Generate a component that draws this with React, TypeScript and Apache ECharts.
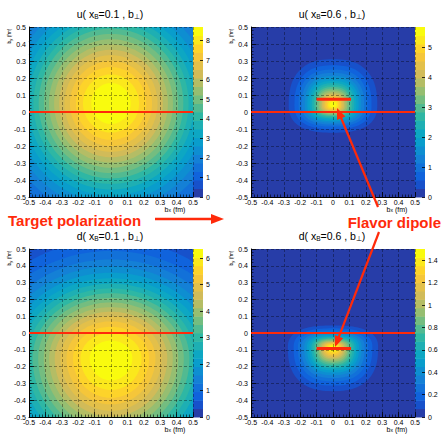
import React, { useEffect, useRef } from "react";
import * as echarts from "echarts";

const FONT = "'Liberation Sans', Arial, Helvetica, sans-serif";
const RED = "#ff2a0a";

// ---- panel metadata ----
const parton = ["u", "u", "d", "d"];
const xBjorken = ["0.1", "0.6", "0.1", "0.6"];
const zMax = [8.7, 5.67, 6.34, 1.5];
const zTickStep = [1, 1, 1, 0.2];
const bMin = -0.5;
const bMax = 0.5;
const bStep = 0.1;
const nBands = 20;

// ---- contour shapes (level k = 1..19, threshold k*zMax/20), in fm ----
const centerX = [0, 0, 0, 0];
const centerY = [0.05, 0.04, -0.15, -0.085];
const squareness = [2, 2.5, 2, 2.5];

const uX01Rx = [0.916, 0.804, 0.729, 0.671, 0.623, 0.58, 0.542, 0.506, 0.473, 0.441, 0.409, 0.378, 0.347, 0.316, 0.284, 0.25, 0.214, 0.171, 0.12];
const uX01RyUp = [0.916, 0.804, 0.729, 0.671, 0.623, 0.58, 0.542, 0.506, 0.473, 0.441, 0.409, 0.378, 0.347, 0.316, 0.284, 0.25, 0.214, 0.171, 0.12];
const uX01RyDown = [0.916, 0.804, 0.729, 0.671, 0.623, 0.58, 0.542, 0.506, 0.473, 0.441, 0.409, 0.378, 0.347, 0.316, 0.284, 0.25, 0.214, 0.171, 0.12];

const uX06Rx = [0.27, 0.235, 0.21, 0.19, 0.172, 0.157, 0.143, 0.13, 0.118, 0.107, 0.097, 0.087, 0.077, 0.068, 0.059, 0.05, 0.04, 0.03, 0.02];
const uX06RyUp = [0.27, 0.235, 0.21, 0.19, 0.172, 0.157, 0.143, 0.13, 0.118, 0.107, 0.097, 0.087, 0.077, 0.068, 0.059, 0.05, 0.04, 0.03, 0.02];
const uX06RyDown = [0.162, 0.141, 0.126, 0.114, 0.103, 0.094, 0.086, 0.078, 0.071, 0.064, 0.058, 0.052, 0.046, 0.041, 0.035, 0.03, 0.024, 0.018, 0.012];

const dX01Rx = [0.994, 0.871, 0.79, 0.728, 0.676, 0.63, 0.588, 0.549, 0.513, 0.478, 0.444, 0.41, 0.377, 0.343, 0.308, 0.271, 0.232, 0.186, 0.13];
const dX01RyUp = [0.803, 0.704, 0.639, 0.588, 0.546, 0.509, 0.476, 0.444, 0.415, 0.387, 0.359, 0.332, 0.304, 0.277, 0.249, 0.219, 0.187, 0.15, 0.105];
const dX01RyDown = [1.009, 0.885, 0.803, 0.739, 0.686, 0.64, 0.598, 0.558, 0.521, 0.486, 0.451, 0.417, 0.382, 0.348, 0.313, 0.275, 0.236, 0.189, 0.132];

const dX06Rx = [0.275, 0.24, 0.214, 0.193, 0.175, 0.159, 0.145, 0.132, 0.12, 0.109, 0.098, 0.088, 0.078, 0.069, 0.06, 0.05, 0.041, 0.031, 0.02];
const dX06RyUp = [0.13, 0.113, 0.101, 0.091, 0.082, 0.075, 0.068, 0.062, 0.056, 0.051, 0.046, 0.041, 0.037, 0.032, 0.028, 0.024, 0.019, 0.015, 0.01];
const dX06RyDown = [0.261, 0.228, 0.203, 0.183, 0.166, 0.151, 0.138, 0.125, 0.114, 0.104, 0.093, 0.084, 0.074, 0.066, 0.057, 0.048, 0.039, 0.029, 0.019];

const contourRx = [uX01Rx, uX06Rx, dX01Rx, dX06Rx];
const contourRyUp = [uX01RyUp, uX06RyUp, dX01RyUp, dX06RyUp];
const contourRyDown = [uX01RyDown, uX06RyDown, dX01RyDown, dX06RyDown];

// ---- red lines ----
const zeroLineX = [-0.5, 0.5];
const zeroLineY = 0;
const markerX = [-0.1, 0.11];
const markerY = [null, 0.075, null, -0.092];

// ---- kBird palette (style) ----
const birdStops = [0, 0.125, 0.25, 0.375, 0.5, 0.625, 0.75, 0.875, 1];
const birdR = [0.2082, 0.0592, 0.078, 0.0232, 0.1802, 0.5301, 0.8186, 0.9956, 0.9764];
const birdG = [0.1664, 0.3599, 0.5041, 0.6419, 0.7178, 0.7492, 0.7328, 0.7862, 0.9832];
const birdB = [0.5293, 0.8684, 0.8385, 0.7914, 0.6425, 0.4662, 0.3499, 0.1968, 0.0539];
function bird(t: number) {
  let i = 0;
  while (i < birdStops.length - 2 && t > birdStops[i + 1]) i++;
  const f = (t - birdStops[i]) / (birdStops[i + 1] - birdStops[i]);
  const c = (a: number[]) => Math.round(255 * (a[i] + (a[i + 1] - a[i]) * f));
  return `rgb(${c(birdR)},${c(birdG)},${c(birdB)})`;
}
const bandColors: string[] = [];
for (let k = 0; k < nBands; k++) {
  bandColors.push(bird(Math.floor((k + 0.99) * 12.75) / 254));
}

// ---- layout ----
const PL = [29, 251, 29, 251];
const PT = [27, 27, 249, 249];
const PW = 164;
const PH = [170, 170, 168, 168];
const CBW = 10;

function clamp(v: number, a: number, b: number) {
  return Math.max(a, Math.min(b, v));
}

function makeContourRender(p: number) {
  return (params: any, api: any) => {
    const k = api.value(0);
    const rx = api.value(1);
    const ru = api.value(2);
    const rd = api.value(3);
    const cs = params.coordSys;
    const n = squareness[p];
    const pts: number[][] = [];
    const N = 120;
    for (let i = 0; i < N; i++) {
      const t = (i / N) * Math.PI * 2;
      const c = Math.cos(t);
      const s = Math.sin(t);
      const ex = Math.sign(c) * Math.pow(Math.abs(c), 2 / n);
      const ey = Math.sign(s) * Math.pow(Math.abs(s), 2 / n);
      const px = centerX[p] + rx * ex;
      const py = centerY[p] + (s > 0 ? ru : rd) * ey;
      const q = api.coord([px, py]);
      pts.push([clamp(q[0], cs.x, cs.x + cs.width), clamp(q[1], cs.y, cs.y + cs.height)]);
    }
    return { type: "polygon", shape: { points: pts }, style: { fill: bandColors[k] } };
  };
}

function makeBarRender(p: number) {
  const step = zMax[p] / nBands;
  return (params: any, api: any) => {
    const k = api.value(1);
    const a = api.coord([0, k * step]);
    const b = api.coord([1, (k + 1) * step]);
    return {
      type: "rect",
      shape: { x: a[0], y: b[1], width: b[0] - a[0], height: a[1] - b[1] + 0.5 },
      style: { fill: bandColors[k] },
    };
  };
}

function arrow(x1: number, y1: number, x2: number, y2: number, w: number, head: number, half: number) {
  const dx = x2 - x1;
  const dy = y2 - y1;
  const L = Math.hypot(dx, dy);
  const ux = dx / L;
  const uy = dy / L;
  const bx = x2 - ux * head;
  const by = y2 - uy * head;
  return [
    { type: "line", shape: { x1, y1, x2: bx + ux, y2: by + uy }, style: { stroke: RED, lineWidth: w }, z: 20 },
    {
      type: "polygon",
      shape: { points: [[x2, y2], [bx - uy * half, by + ux * half], [bx + uy * half, by - ux * half]] },
      style: { fill: RED },
      z: 20,
    },
  ];
}

const richSub = {
  s: { fontSize: 6.5, fontFamily: FONT, verticalAlign: "bottom", lineHeight: 7, fill: "#000" },
};

function buildOption() {
  const grid: any[] = [];
  const xAxis: any[] = [];
  const yAxis: any[] = [];
  const series: any[] = [];
  const graphic: any[] = [];
  const blackLine = { color: "#000", width: 1 };
  for (let p = 0; p < 4; p++) {
    grid.push({ left: PL[p], top: PT[p], width: PW, height: PH[p], show: true, backgroundColor: bandColors[0], borderWidth: 0 });
    grid.push({ left: PL[p] + PW, top: PT[p], width: CBW, height: PH[p], show: false });
    xAxis.push({
      gridIndex: 2 * p,
      type: "value",
      min: bMin,
      max: bMax,
      interval: bStep,
      z: 3,
      axisLine: { show: true, onZero: false, lineStyle: blackLine },
      axisTick: { show: true, inside: true, length: 5, lineStyle: { color: "#000", width: 0.8 } },
      minorTick: { show: true, splitNumber: 5, length: 2.5, lineStyle: { color: "#000", width: 0.6 } },
      axisLabel: { fontSize: 7, margin: 2, color: "#000", fontFamily: FONT, lineHeight: 7 },
      splitLine: { show: true, lineStyle: { color: "#000", width: 0.6, type: [3, 2], opacity: 0.6 } },
    });
    xAxis.push({ gridIndex: 2 * p + 1, type: "value", min: 0, max: 1, show: false });
    yAxis.push({
      gridIndex: 2 * p,
      type: "value",
      min: bMin,
      max: bMax,
      interval: bStep,
      z: 3,
      axisLine: { show: true, onZero: false, lineStyle: blackLine },
      axisTick: { show: true, inside: true, length: 5, lineStyle: { color: "#000", width: 0.8 } },
      minorTick: { show: true, splitNumber: 5, length: 2.5, lineStyle: { color: "#000", width: 0.6 } },
      axisLabel: { fontSize: 7, margin: 3, color: "#000", fontFamily: FONT },
      splitLine: { show: true, lineStyle: { color: "#000", width: 0.6, type: [3, 2], opacity: 0.6 } },
    });
    yAxis.push({
      gridIndex: 2 * p + 1,
      type: "value",
      min: 0,
      max: zMax[p],
      interval: zTickStep[p],
      position: "right",
      z: 3,
      axisLine: { show: false, onZero: false },
      axisTick: { show: true, inside: true, length: 3, lineStyle: { color: "#000", width: 0.8 } },
      axisLabel: { fontSize: 7, margin: 3, color: "#000", fontFamily: FONT, showMaxLabel: false },
      splitLine: { show: false },
    });

    const rx = contourRx[p];
    series.push({
      type: "custom",
      xAxisIndex: 2 * p,
      yAxisIndex: 2 * p,
      silent: true,
      z: 1,
      renderItem: makeContourRender(p),
      data: rx.map((r, i) => [i + 1, r, contourRyUp[p][i], contourRyDown[p][i]]),
    });
    const bandIdx: number[][] = [];
    for (let k = 0; k < nBands; k++) bandIdx.push([0.5, k]);
    series.push({
      type: "custom",
      xAxisIndex: 2 * p + 1,
      yAxisIndex: 2 * p + 1,
      silent: true,
      z: 1,
      renderItem: makeBarRender(p),
      data: bandIdx,
    });
    series.push({
      type: "line",
      xAxisIndex: 2 * p,
      yAxisIndex: 2 * p,
      silent: true,
      symbol: "none",
      z: 10,
      lineStyle: { color: RED, width: 2 },
      data: zeroLineX.map((x) => [x, zeroLineY]),
    });
    const my = markerY[p];
    if (my !== null) {
      series.push({
        type: "line",
        xAxisIndex: 2 * p,
        yAxisIndex: 2 * p,
        silent: true,
        symbol: "none",
        z: 10,
        lineStyle: { color: RED, width: 3 },
        data: markerX.map((x) => [x, my]),
      });
    }

    // title
    graphic.push({
      type: "text",
      x: PL[p] + 81,
      y: PT[p] - 13.5,
      z: 20,
      style: {
        text: `${parton[p]}( x{s|B}=${xBjorken[p]} , b{s|⊥})`,
        font: `10.5px ${FONT}`,
        fill: "#000",
        align: "center",
        verticalAlign: "middle",
        lineHeight: 13,
        rich: richSub,
      },
    });
    // x axis title
    graphic.push({
      type: "text",
      x: PL[p] + 146,
      y: PT[p] + PH[p] + 12,
      z: 20,
      style: {
        text: "b{s|x} (fm)",
        font: `7px ${FONT}`,
        fill: "#000",
        align: "center",
        verticalAlign: "middle",
        lineHeight: 7,
        rich: { s: { fontSize: 5, fontFamily: FONT, verticalAlign: "bottom", lineHeight: 5, fill: "#000" } },
      },
    });
    // y axis title
    graphic.push({
      type: "text",
      x: PL[p] - 20,
      y: PT[p] + 9,
      rotation: Math.PI / 2,
      z: 20,
      style: {
        text: "b{s|y} (fm)",
        font: `5px ${FONT}`,
        fill: "#000",
        align: "center",
        verticalAlign: "middle",
        lineHeight: 6,
        rich: { s: { fontSize: 4, fontFamily: FONT, verticalAlign: "bottom", lineHeight: 4, fill: "#000" } },
      },
    });
  }

  graphic.push({
    type: "text",
    x: 8,
    y: 220,
    z: 20,
    style: { text: "Target polarization", font: `bold 15px ${FONT}`, fill: RED, align: "left", verticalAlign: "middle", lineHeight: 15 },
  });
  graphic.push({
    type: "text",
    x: 441,
    y: 222,
    z: 20,
    style: { text: "Flavor dipole", font: `bold 15px ${FONT}`, fill: RED, align: "right", verticalAlign: "middle", lineHeight: 15 },
  });
  graphic.push(...arrow(155, 219, 224, 219, 2.5, 13, 5));
  graphic.push(...arrow(378, 207, 337, 108, 2.2, 11, 4.5));
  graphic.push(...arrow(379, 232, 335, 347, 2.2, 11, 4.5));

  return { animation: false, grid, xAxis, yAxis, series, graphic };
}

export default function App() {
  const ref = useRef<HTMLDivElement>(null);
  useEffect(() => {
    document.body.style.margin = "0";
    if (!ref.current) return;
    const chart = echarts.init(ref.current, undefined, { renderer: "svg" });
    chart.setOption(buildOption() as any);
    return () => chart.dispose();
  }, []);
  return <div ref={ref} style={{ width: 443, height: 435, background: "#fff" }} />;
}
